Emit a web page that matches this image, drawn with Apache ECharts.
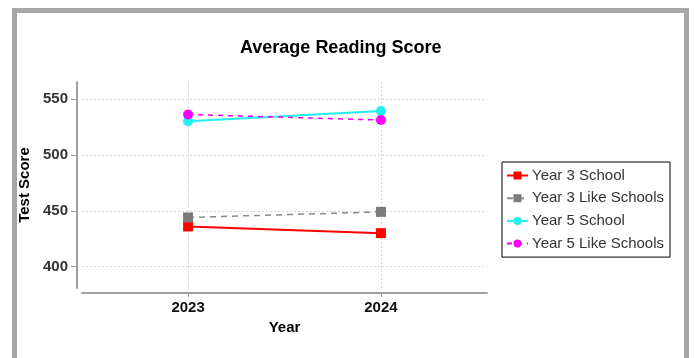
<!DOCTYPE html>
<html>
<head>
<meta charset="utf-8">
<style>
  html, body { margin: 0; padding: 0; background: #ffffff; }
  #chart { width: 694px; height: 358px; }
</style>
<script src="https://cdn.jsdelivr.net/npm/echarts@6/dist/echarts.min.js"></script>
</head>
<body>
<div id="chart"></div>
<script>
// Reading scores by year
const years = [2023, 2024];
const year3School = [436, 430];
const year3Like = [444, 449];
const year5School = [530, 539];
const year5Like = [536, 531];
const yTicks = [400, 450, 500, 550];

const FONT = '"Liberation Sans", Arial, sans-serif';

function pairs(values) {
  return years.map((y, i) => [y, values[i]]);
}

const chart = echarts.init(document.getElementById('chart'), null, { renderer: 'canvas' });

chart.setOption({
  animation: false,
  backgroundColor: '#ffffff',
  textStyle: { fontFamily: FONT },
  graphic: [{
    type: 'rect',
    silent: true,
    z: -10,
    shape: { x: 14.5, y: 10.5, width: 672, height: 420 },
    style: { fill: null, stroke: '#a7a7a7', lineWidth: 5 }
  }],
  title: {
    text: 'Average Reading Score',
    left: 235,
    top: 34,
    textStyle: { fontFamily: FONT, fontSize: 18, fontWeight: 'bold', color: '#000' }
  },
  legend: {
    orient: 'vertical',
    left: 502,
    top: 162,
    padding: [6, 6, 6, 4],
    itemGap: 7.7,
    itemWidth: 21,
    itemHeight: 10,
    borderColor: '#000',
    borderWidth: 1,
    backgroundColor: '#fff',
    textStyle: { fontFamily: FONT, fontSize: 15, color: '#333', padding: [0, 0, 0, -1] },
    data: ['Year 3 School', 'Year 3 Like Schools', 'Year 5 School', 'Year 5 Like Schools']
  },
  grid: { left: 82, right: 207, top: 82, bottom: 70, containLabel: false },
  xAxis: {
    type: 'value',
    min: 2022.45,
    max: 2024.55,
    offset: 5,
    name: 'Year',
    nameLocation: 'middle',
    nameGap: 27,
    nameTextStyle: { fontFamily: FONT, fontSize: 15, fontWeight: 'bold', color: '#000' },
    axisLine: { show: true, lineStyle: { color: '#a0a0a0', width: 2 } },
    axisTick: { show: true, customValues: years, length: 4, lineStyle: { color: '#a0a0a0' } },
    axisLabel: {
      customValues: years,
      margin: 7,
      fontFamily: FONT, fontSize: 15, fontWeight: 'bold', color: '#111',
      formatter: v => String(v)
    },
    splitLine: { show: false }
  },
  yAxis: {
    type: 'value',
    min: 381,
    max: 565,
    offset: 5,
    name: 'Test Score',
    nameLocation: 'middle',
    nameGap: 42,
    nameTextStyle: { fontFamily: FONT, fontSize: 15, fontWeight: 'bold', color: '#000' },
    axisLine: { show: true, lineStyle: { color: '#a0a0a0', width: 2 } },
    axisTick: { show: true, customValues: yTicks, length: 6, lineStyle: { color: '#a0a0a0' } },
    axisLabel: {
      customValues: yTicks,
      margin: 9,
      fontFamily: FONT, fontSize: 15, fontWeight: 'bold', color: '#333'
    },
    splitLine: { show: false }
  },
  series: [
    {
      // background grid: dotted guides at the y ticks and each year
      name: 'grid',
      type: 'line',
      data: [],
      z: 1,
      silent: true,
      markLine: {
        z: 1,
        silent: true,
        symbol: ['none', 'none'],
        label: { show: false },
        animation: false,
        lineStyle: { color: '#d6d6d6', type: [2, 2], width: 1 },
        data: yTicks.map(v => ({ yAxis: v })).concat(years.map(v => ({ xAxis: v })))
      }
    },
    {
      name: 'Year 3 School',
      type: 'line',
      data: pairs(year3School),
      symbol: 'rect',
      symbolSize: 10,
      color: '#ff0000',
      lineStyle: { color: '#ff0000', width: 2 },
      itemStyle: { color: '#ff0000' },
      z: 3
    },
    {
      name: 'Year 3 Like Schools',
      type: 'line',
      data: pairs(year3Like),
      symbol: 'rect',
      symbolSize: 10,
      color: '#7a7a7a',
      lineStyle: { color: '#8a8a8a', width: 1.5, type: [6, 5] },
      itemStyle: { color: '#7a7a7a' },
      z: 3
    },
    {
      name: 'Year 5 School',
      type: 'line',
      data: pairs(year5School),
      symbol: 'circle',
      symbolSize: 10,
      color: '#1ff0f0',
      lineStyle: { color: '#1ff0f0', width: 2 },
      itemStyle: { color: '#1ff0f0' },
      z: 3
    },
    {
      name: 'Year 5 Like Schools',
      type: 'line',
      data: pairs(year5Like),
      symbol: 'circle',
      symbolSize: 10,
      color: '#ff00ff',
      lineStyle: { color: '#ee00ee', width: 1.5, type: [5, 5] },
      itemStyle: { color: '#ff00ff' },
      z: 3
    }
  ]
});
</script>
</body>
</html>
